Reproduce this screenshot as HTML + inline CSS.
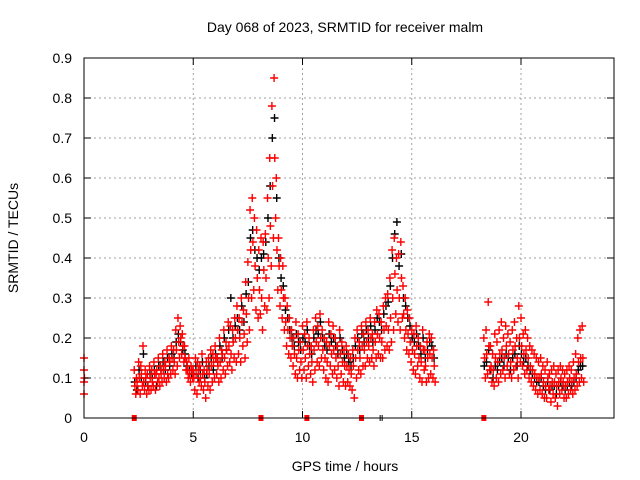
<!DOCTYPE html>
<html><head><meta charset="utf-8"><style>
body{margin:0;background:#fff}
svg{display:block;font-family:"Liberation Sans",sans-serif}
</style></head><body>
<svg id="chart" width="640" height="480">
<g id="grid"></g>
<g id="marks"></g>
<g id="axes"></g>
<text x="345" y="32" text-anchor="middle" font-size="14">Day 068 of 2023, SRMTID for receiver malm</text>
<text x="345" y="471" text-anchor="middle" font-size="14">GPS time / hours</text>
<text transform="translate(18,238) rotate(-90)" text-anchor="middle" font-size="14">SRMTID / TECUs</text>
</svg>
<script>
const xTicks=[0,5,10,15,20];
const yTicks=[0,0.1,0.2,0.3,0.4,0.5,0.6,0.7,0.8,0.9];
const yTickLabels=["0","0.1","0.2","0.3","0.4","0.5","0.6","0.7","0.8","0.9"];
const startTimes=[0,0,0,0,0.02];
const startVals=[0.06,0.09,0.12,0.15,0.10];
const segAStart=2.3;
const segARed1=[.12,.10,.14,.13,.18,.12,.11,
.13,.12,.14,.11,.15,.13,.16,.14,.17,.15,
.18,.17,.22,.25,.23,.21,.18,.14,.15,.13,
.12,.15,.14,.13,.16,.12,.14,.15,.17,.16,
.18,.15,.20,.17,.22,.19,.24,.23,.22,.25,
.28,.25,.30,.27,.34,.39,.52,.55,.50,.47,
.42,.45,.44,.46,.55,.65,.78,.85,.60,.45,
.40,.38,.30,.28,.25,.22,.20,.24,.21,.19,
.23,.21,.24,.20,.18,.22,.25,.23,.26,.22,
.20,.19,.24,.21,.23,.20,.18,.22,.19,.17,
.18,.16,.15,.17,.20,.22,.19,.23,.21,.24,
.22,.25,.21,.24,.27,.26,.24,.28,.30,.31,
.35,.42,.45,.40,.41,.44,.33,.30,.27,.25,
.22,.21,.23,.20,.18,.22,.17,.19,.21,.20,.17];
const segARed2=[.08,.09,.10,.11,.09,.10,.08,
.10,.09,.11,.12,.10,.11,.12,.13,.11,.14,
.15,.14,.17,.19,.20,.18,.15,.12,.11,.12,
.10,.11,.12,.10,.11,.09,.12,.11,.13,.14,
.15,.13,.14,.16,.15,.17,.18,.16,.19,.20,
.22,.20,.24,.21,.26,.30,.42,.44,.38,.35,
.32,.30,.37,.35,.40,.48,.58,.65,.42,.38,
.32,.30,.24,.22,.20,.18,.16,.15,.17,.14,
.17,.15,.18,.16,.14,.17,.19,.18,.20,.17,
.15,.14,.18,.16,.17,.15,.13,.16,.14,.13,
.13,.12,.11,.13,.15,.17,.15,.18,.17,.19,
.18,.20,.17,.19,.21,.20,.19,.22,.23,.22,
.25,.30,.36,.32,.30,.35,.26,.22,.21,.19,
.17,.16,.18,.15,.14,.17,.13,.15,.16,.15,.13];
const segARed3=[.06,.07,.06,.08,.07,.06,.07,
.07,.08,.07,.09,.08,.09,.10,.09,.10,.11,
.12,.11,.13,.15,.16,.14,.12,.10,.09,.10,
.07,.06,.09,.08,.07,.05,.08,.07,.09,.10,
.11,.09,.10,.12,.11,.13,.14,.12,.15,.14,
.16,.14,.18,.15,.19,.22,.30,.32,.27,.25,
.26,.22,.28,.27,.30,.38,.45,.50,.32,.28,
.25,.22,.18,.16,.15,.13,.11,.10,.12,.10,
.12,.10,.13,.11,.09,.12,.14,.13,.15,.12,
.10,.09,.13,.11,.12,.10,.08,.11,.09,.08,
.09,.08,.07,.05,.10,.12,.11,.13,.13,.15,
.14,.15,.13,.15,.16,.15,.15,.17,.18,.17,
.19,.22,.26,.24,.22,.25,.20,.17,.16,.14,
.12,.11,.13,.10,.09,.12,.09,.10,.11,.10,.09];
const segABlack=[.09,.07,.12,.10,.16,.09,.08,
.11,.10,.12,.08,.13,.12,.14,.12,.15,.13,
.16,.15,.19,.21,.19,.17,.16,.13,.12,.11,
.11,.13,.10,.12,.14,.10,.11,.13,.15,.12,
.16,.14,.18,.15,.20,.17,.22,.30,.20,.23,
.25,.22,.28,.24,.31,.34,.45,.47,.42,.40,
.37,.40,.41,.44,.50,.58,.70,.75,.55,.40,
.35,.33,.27,.25,.22,.20,.18,.21,.19,.17,
.20,.19,.22,.18,.16,.20,.22,.21,.24,.20,
.18,.17,.21,.19,.20,.18,.16,.20,.17,.15,
.16,.14,.13,.15,.18,.20,.17,.21,.19,.22,
.20,.23,.19,.22,.25,.24,.22,.26,.28,.29,
.33,.40,.46,.49,.38,.41,.30,.28,.25,.23,
.20,.19,.21,.18,.16,.20,.15,.17,.19,.18,.15];
const segBStart=18.3;
const segBRed1=[.20,.22,.29,.18,.16,.21,.19,
.22,.24,.20,.23,.21,.19,.22,.24,.20,.28,
.25,.21,.22,.20,.18,.17,.16,.15,.14,.15,
.13,.12,.14,.11,.12,.13,.11,.12,.13,.12,
.11,.12,.13,.12,.14,.16,.20,.22,.23];
const segBRed2=[.15,.16,.18,.13,.12,.15,.14,
.16,.17,.15,.18,.16,.14,.17,.18,.15,.20,
.18,.16,.17,.15,.13,.12,.11,.10,.10,.11,
.09,.08,.10,.08,.09,.09,.08,.09,.10,.09,
.08,.09,.10,.09,.10,.11,.14,.15,.15];
const segBRed3=[.10,.11,.12,.09,.08,.10,.09,
.11,.12,.10,.13,.11,.10,.12,.13,.10,.14,
.13,.11,.12,.10,.09,.08,.07,.06,.07,.06,
.05,.05,.07,.04,.06,.05,.03,.06,.07,.05,
.05,.06,.07,.06,.07,.08,.09,.10,.09];
const segBBlack=[.13,.14,.17,.12,.10,.13,.12,
.14,.15,.13,.16,.15,.12,.15,.16,.13,.18,
.16,.14,.15,.13,.12,.11,.10,.09,.09,.10,
.08,.07,.09,.07,.08,.08,.06,.08,.09,.08,
.07,.08,.09,.08,.09,.10,.12,.13,.13];
const redMarkerTimes=[2.3,8.1,10.2,12.7,18.3];
const blackMarkerTimes=[13.6];

const X0=84,X1=614,Y0=418,Y1=58;
const xs=t=>X0+t*21.85;
const ys=v=>Y0-(v/0.9)*(Y0-Y1);
const NS="http://www.w3.org/2000/svg";
const grid=document.getElementById('grid'),marks=document.getElementById('marks'),axes=document.getElementById('axes');
function mk(tag,attrs,parent){const e=document.createElementNS(NS,tag);for(const k in attrs)e.setAttribute(k,attrs[k]);parent.appendChild(e);return e;}

yTicks.forEach((v,i)=>{
  const y=ys(v);
  if(i>0&&i<yTicks.length-1){const g=mk('line',{x1:X0,x2:X1,y1:y,y2:y,stroke:'#a0a0a0','stroke-dasharray':'2,3'},grid);
  
  }
  const t=mk('line',{x1:X0,x2:X0+7,y1:y,y2:y,stroke:'#000'},axes);
  
  
  const t2=mk('line',{x1:X1-7,x2:X1,y1:y,y2:y,stroke:'#000'},axes);
  
  
  const l=mk('text',{x:X0-12,y:y+5,'text-anchor':'end','font-size':'14'},axes);
  l.textContent=yTickLabels[i];
  
  
});
xTicks.forEach(v=>{
  const x=xs(v);
  if(v>0){const g=mk('line',{x1:x,x2:x,y1:Y1,y2:Y0,stroke:'#a0a0a0','stroke-dasharray':'2,3'},grid);
  
  }
  const t=mk('line',{x1:x,x2:x,y1:Y0,y2:Y0-7,stroke:'#000'},axes);
  
  
  const t2=mk('line',{x1:x,x2:x,y1:Y1,y2:Y1+7,stroke:'#000'},axes);
  
  
  const l=mk('text',{x:x,y:Y0+24,'text-anchor':'middle','font-size':'14'},axes);
  l.textContent=String(v);
  
  
});
const frame=mk('rect',{x:X0,y:Y1,width:X1-X0,height:Y0-Y1,fill:'none',stroke:'#000'},axes);



function plus(t,v,color){
  const x=xs(t),y=ys(v);
  const p=mk('path',{d:`M${x-4} ${y}h8M${x} ${y-4}v8`,stroke:color,'stroke-width':'1.4',fill:'none'},marks);
  
  
}
function series(start,vals,color,off){vals.forEach((v,i)=>plus(start+i*0.1+off,v,color));}
series(segAStart,segABlack,'#000',0.02);
series(segBStart,segBBlack,'#000',0.02);
startTimes.forEach((t,i)=>plus(t,startVals[i],'#ff0000'));
series(segAStart,segARed1,'#ff0000',0);
series(segAStart,segARed2,'#ff0000',0.03);
series(segAStart,segARed3,'#ff0000',0.07);
series(segBStart,segBRed1,'#ff0000',0);
series(segBStart,segBRed2,'#ff0000',0.03);
series(segBStart,segBRed3,'#ff0000',0.07);
redMarkerTimes.forEach(t=>{
  const r=mk('rect',{x:xs(t)-2.5,y:Y0-3,width:5,height:6,fill:'#ff0000'},marks);
  
  
});
blackMarkerTimes.forEach(t=>{
  const r=mk('path',{d:`M${xs(t)-1} ${Y0-3}v6M${xs(t)+1} ${Y0-3}v6`,stroke:'#000'},marks);
  
  
});
</script>
</body></html>
